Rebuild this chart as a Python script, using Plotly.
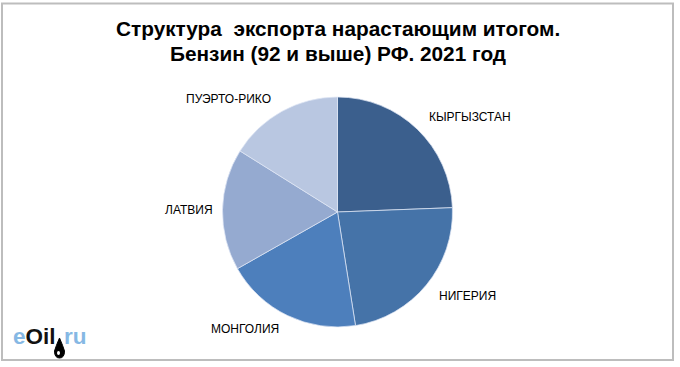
import plotly.graph_objects as go

W, H = 680, 367

# Data
countries = ["КЫРГЫЗСТАН", "НИГЕРИЯ", "МОНГОЛИЯ", "ЛАТВИЯ", "ПУЭРТО-РИКО"]
shares = [24.4, 23.1, 19.3, 17.1, 16.1]
colors = ["#3B5F8D", "#4573A8", "#4D7FBC", "#95AAD0", "#B9C7E1"]
title_lines = ["Структура  экспорта нарастающим итогом.", "Бензин (92 и выше) РФ. 2021 год"]

# Layout positions (pixels)
cx, cy, r = 337.5, 212, 115
label_pos = [(470, 117), (467, 296), (245, 329), (188.5, 209.5), (228.5, 99)]

def px(x):
    return x / W

def py(y):
    return 1 - y / H

fig = go.Figure(go.Pie(
    labels=countries,
    values=shares,
    sort=False,
    direction="clockwise",
    rotation=0,
    textinfo="none",
    hoverinfo="label+percent",
    marker=dict(colors=colors, line=dict(color="rgba(225,232,245,0.9)", width=0.8)),
    domain=dict(x=[px(cx - r), px(cx + r)], y=[py(cy + r), py(cy - r)]),
    showlegend=False,
))

annotations = []
for name, (x, y) in zip(countries, label_pos):
    annotations.append(dict(
        x=px(x), y=py(y), xref="paper", yref="paper", text=name,
        showarrow=False, xanchor="center", yanchor="middle",
        font=dict(family="Arial, Liberation Sans", size=12, color="#000000"),
    ))

for line, ty in zip(title_lines, [28, 53]):
    annotations.append(dict(
        x=px(337.5), y=py(ty), xref="paper", yref="paper", text="<b>" + line + "</b>",
        showarrow=False, xanchor="center", yanchor="middle",
        font=dict(family="Arial, Liberation Sans", size=20.8, color="#000000"),
    ))

# logo
annotations.append(dict(
    x=px(11), y=py(336), xref="paper", yref="paper",
    text="<b><span style='color:#86B8E4'>e</span><span style='color:#111111'>Oil</span></b>",
    showarrow=False, xanchor="left", yanchor="middle",
    font=dict(family="Arial, Liberation Sans", size=22.5, color="#86B8E4"),
))
annotations.append(dict(
    x=px(62), y=py(336), xref="paper", yref="paper",
    text="<b>ru</b>",
    showarrow=False, xanchor="left", yanchor="middle",
    font=dict(family="Arial, Liberation Sans", size=22.5, color="#86B8E4"),
))

def P(x, y):
    return f"{px(x):.5f},{py(y):.5f}"

drop_path = ("M " + P(59.5, 338) + " Q " + P(56, 346) + " " + P(54.5, 351)
             + " Q " + P(54.5, 358) + " " + P(59.5, 358) + " Q " + P(64.5, 358) + " " + P(64.5, 351)
             + " Q " + P(63, 346) + " " + P(59.5, 338) + " Z")

shapes = [
    dict(type="rect", xref="paper", yref="paper",
         x0=px(2), x1=px(673), y0=py(360), y1=py(3.5),
         line=dict(color="#BDBDBD", width=2), fillcolor="rgba(0,0,0,0)", layer="below"),
    dict(type="path", xref="paper", yref="paper", path=drop_path,
         line=dict(color="#000000", width=1), fillcolor="#000000"),
    dict(type="circle", xref="paper", yref="paper",
         x0=px(57), x1=px(60), y0=py(355), y1=py(351),
         line=dict(width=0), fillcolor="#FFFFFF"),
]

fig.update_layout(
    width=W, height=H,
    margin=dict(l=0, r=0, t=0, b=0),
    paper_bgcolor="#FFFFFF",
    plot_bgcolor="#FFFFFF",
    annotations=annotations,
    shapes=shapes,
)

fig.write_html("out.html")
